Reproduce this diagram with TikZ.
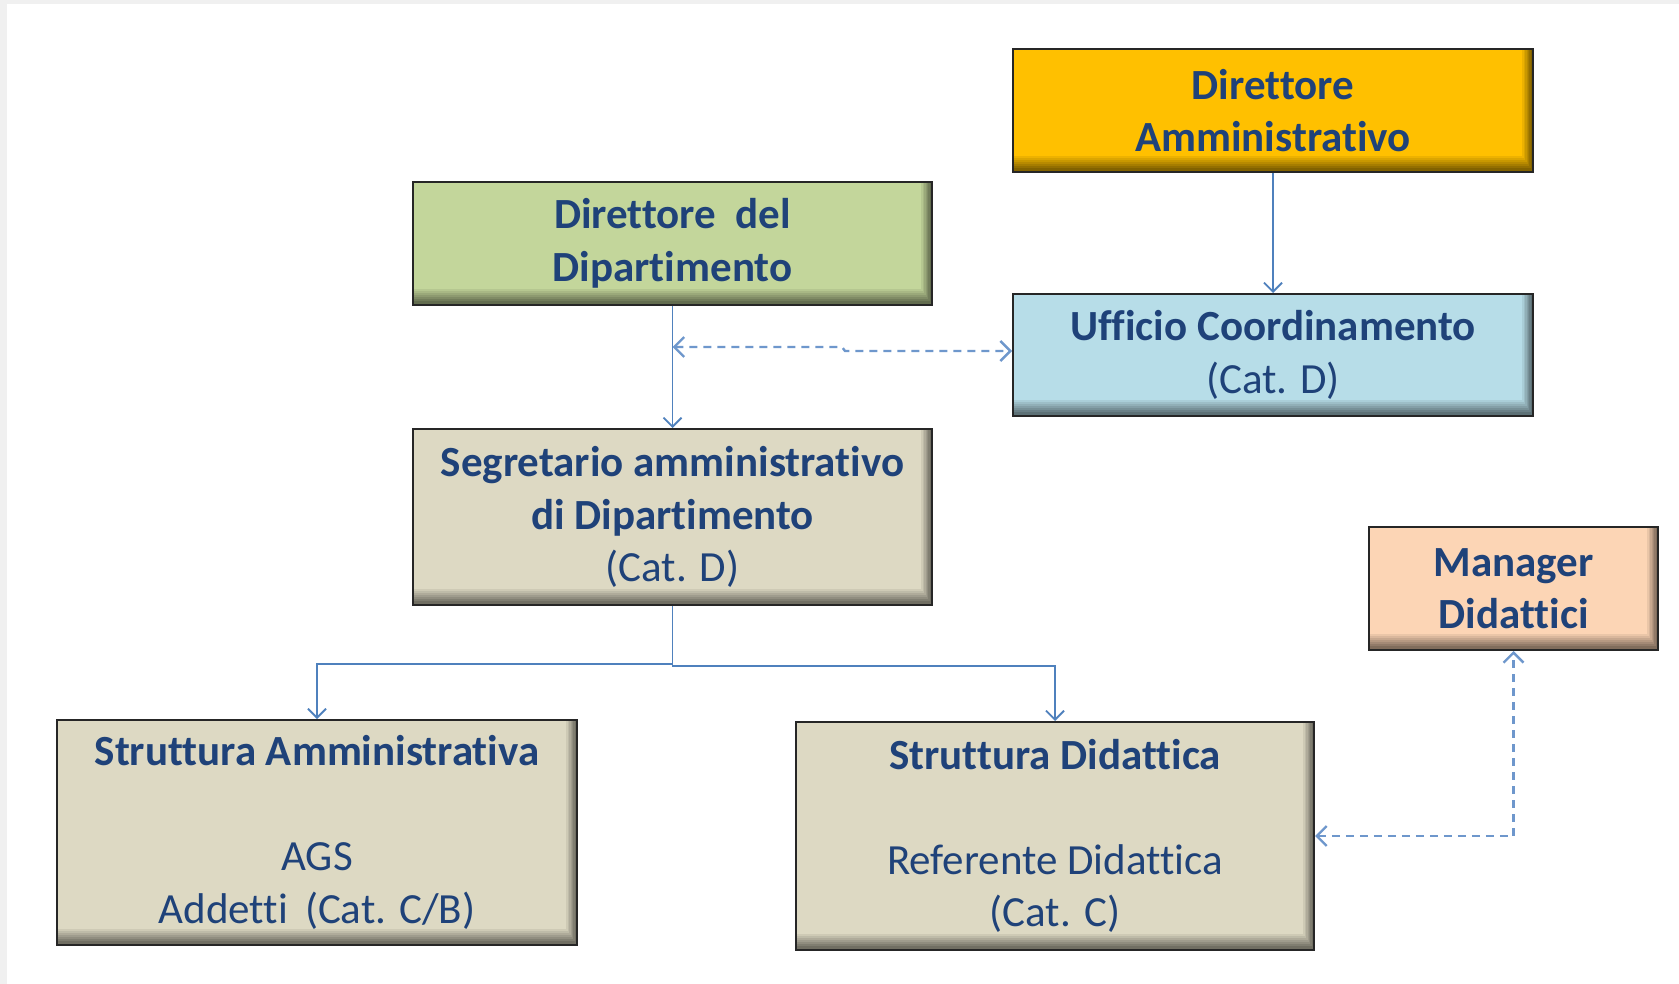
\documentclass[tikz,border=0pt]{standalone}
\usepackage{fontspec}
\setmainfont{Carlito}[Ligatures={NoCommon}]
\usetikzlibrary{arrows.meta}
\definecolor{ccA}{HTML}{FFC000}
\definecolor{ccB}{HTML}{C3D69B}
\definecolor{ccC}{HTML}{B7DDE8}
\definecolor{ccD}{HTML}{DDD9C3}
\definecolor{ccE}{HTML}{FCD5B5}
\definecolor{lineblue}{HTML}{4F81BD}
\definecolor{dashblue}{HTML}{6E97CC}
\definecolor{txtblue}{HTML}{1F4279}
\definecolor{framegray}{HTML}{F0F0F0}
\tikzset{
  orgbox/.style={draw=black!85, line width=2pt, fill=#1, text=txtblue, align=center,
    inner sep=0pt, anchor=north west,
    font=\fontsize{43}{52.5}\selectfont,
    path picture={
      \foreach \k [evaluate=\k as \p using int(100-7*\k),
                   evaluate=\k as \h using 18-2*\k,
                   evaluate=\k as \w using 12-1.4*\k] in {0,...,7}
      {
        \fill[#1!\p!black] (path picture bounding box.south west) rectangle
          ([yshift=\h pt]path picture bounding box.south east);
        \fill[#1!\p!black] ([xshift=-\w pt]path picture bounding box.north east) rectangle
          (path picture bounding box.south east);
      }
    }},
  conn/.style={draw=lineblue, line width=1.8pt, -{Straight Barb[length=9pt,width=18pt]}},
  dconn/.style={draw=dashblue, line width=2.4pt, dash pattern=on 8pt off 6pt,
    {Straight Barb[length=10pt,width=20pt]}-{Straight Barb[length=10pt,width=20pt]}},
}
\begin{document}
\begin{tikzpicture}[x=1pt,y=1pt]
\useasboundingbox (0,0) rectangle (1679,-984);
\fill[white] (0,0) rectangle (1679,-984);
\fill[framegray] (0,0) rectangle (7,-984);
\fill[framegray] (0,0) rectangle (1679,-4);

\node[orgbox=ccA, minimum width=520pt, minimum height=123pt] (da) at (1012,-48)
  {\textbf{Direttore}\\\textbf{Amministrativo}};
\node[orgbox=ccB, minimum width=519pt, minimum height=123pt] (dd) at (412,-181)
  {\textbf{Direttore\hspace{0.45em}del}\\\textbf{Dipartimento}};
\node[orgbox=ccC, minimum width=520pt, minimum height=122pt] (uc) at (1012,-293)
  {\textbf{Ufficio Coordinamento}\\(Cat. D)};
\node[orgbox=ccD, minimum width=519pt, minimum height=176pt] (sa) at (412,-428)
  {\textbf{Segretario amministrativo}\\\textbf{di Dipartimento}\\(Cat. D)};
\node[orgbox=ccE, minimum width=289pt, minimum height=123pt] (mg) at (1368,-526)
  {\textbf{Manager}\\\textbf{Didattici}};
\node[orgbox=ccD, minimum width=520pt, minimum height=225pt] (sam) at (56,-719)
  {\textbf{Struttura Amministrativa}\\\mbox{}\\AGS\\Addetti\hspace{0.4em}(Cat. C/B)};
\node[orgbox=ccD, minimum width=518pt, minimum height=228pt] (sd) at (795,-721)
  {\textbf{Struttura Didattica}\\\mbox{}\\Referente Didattica\\(Cat. C)};

\draw[conn] (da.south) -- (uc.north);
\draw[conn] (dd.south) -- (sa.north);
\draw[conn] (sa.south) -- ++(0,-58) -| (sam.north);
\draw[conn] (sa.south) -- ++(0,-60) -| (sd.north);

\coordinate (j1) at (dd.south |- 0,-347);
\coordinate (j2) at (uc.west |- 0,-351);
\draw[dconn] (j1) -- (842,-347) -- (845,-351) -- (j2);
\draw[dconn] (sd.east) -| (mg.south);
\end{tikzpicture}
\end{document}
